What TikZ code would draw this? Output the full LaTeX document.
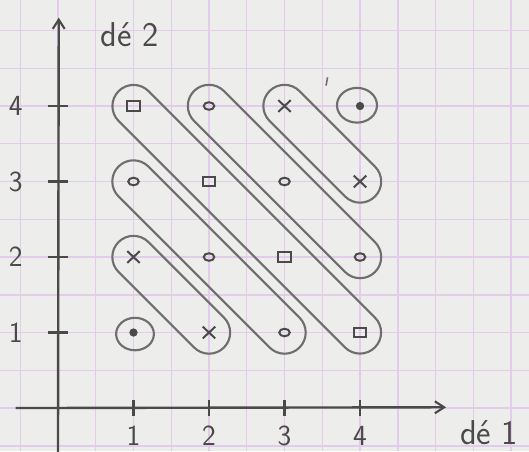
\documentclass[tikz,border=0pt]{standalone}
\usetikzlibrary{arrows.meta,shapes.geometric,shapes.misc}
\definecolor{paper}{HTML}{EDEDEB}
\definecolor{gridc}{HTML}{E2CCEA}
\definecolor{ink}{HTML}{4A4A4A}
\definecolor{pencil}{HTML}{6E6E6E}
\begin{document}
\begin{tikzpicture}[x=2cm,y=2cm,
  gridline/.style={gridc, line width=1.1pt},
  axis/.style={ink, line width=1.8pt, -{Straight Barb[length=7pt,width=9pt,line width=1.6pt]}},
  tick/.style={ink, line width=1.6pt},
  lab/.style={text=ink, font=\sffamily\fontsize{22}{26}\selectfont, inner sep=0},
  biglab/.style={text=ink, font=\sffamily\fontsize{26}{30}\selectfont, inner sep=0},
  sq/.style={draw=ink, line width=1.5pt, rectangle, minimum width=0.34cm, minimum height=0.24cm, inner sep=0},
  ci/.style={draw=ink, line width=1.5pt, ellipse, minimum width=0.28cm, minimum height=0.2cm, inner sep=0},
  cr/.style={draw=ink, line width=1.5pt, cross out, minimum width=0.28cm, minimum height=0.26cm, inner sep=0},
  dt/.style={fill=ink, circle, minimum size=0.22cm, inner sep=0},
  ring/.style={draw=pencil, line width=1.6pt, ellipse, inner sep=0},
  loopbox/.style={draw=pencil, line width=1.6pt, rectangle, rounded corners=0.56cm, minimum height=1.12cm, inner sep=0, rotate=-45}
]
\fill[paper] (-0.768,-0.570) rectangle (6.238,5.404);
\useasboundingbox (-0.768,-0.570) rectangle (6.238,5.404);
% graph paper
\foreach \x in {-0.5,0,...,6.0} \draw[gridline] (\x,-0.57) -- (\x,5.404);
\foreach \y in {-0.5,0,...,5.0} \draw[gridline] (-0.768,\y) -- (6.238,\y);

% axes
\coordinate (xs) at (-0.56,0);
\coordinate (xe) at (5.14,0.01);
\coordinate (ys) at (0,-0.6);
\coordinate (ye) at (0.01,5.17);
\draw[axis] (xs) -- (xe);
\draw[axis] (ys) -- (ye);
\foreach \i in {1,2,3,4} {
  \coordinate (xt\i a) at (\i,-0.11);
  \coordinate (xt\i b) at (\i,0.11);
  \draw[tick] (xt\i a) -- (xt\i b);
  \coordinate (yt\i a) at (-0.13,\i);
  \coordinate (yt\i b) at (0.13,\i);
  \draw[tick] (yt\i a) -- (yt\i b);
  \node[lab] (xl\i) at (\i,-0.37) {\i};
  \node[lab] (yl\i) at (-0.56,\i) {\i};
}
\node[biglab] (d2) at (0.95,4.95) {dé 2};
\node[biglab] (d1) at (5.71,-0.32) {dé 1};

% outcome marks
\node[dt] (p11) at (1,1) {};
\node[cr] (p12) at (1,2) {};
\node[cr] (p21) at (2,1) {};
\node[ci] (p13) at (1,3) {};
\node[ci] (p22) at (2,2) {};
\node[ci] (p31) at (3,1) {};
\node[sq] (p14) at (1,4) {};
\node[sq] (p23) at (2,3) {};
\node[sq] (p32) at (3,2) {};
\node[sq] (p41) at (4,1) {};
\node[ci] (p24) at (2,4) {};
\node[ci] (p33) at (3,3) {};
\node[ci] (p42) at (4,2) {};
\node[cr] (p34) at (3,4) {};
\node[cr] (p43) at (4,3) {};
\node[dt] (p44) at (4,4) {};

% groupings
\node[ring, minimum width=1.0cm, minimum height=0.86cm] (g2) at (1.02,0.98) {};
\node[loopbox, minimum width=3.95cm] (g3) at (1.5,1.5) {};
\node[loopbox, minimum width=6.78cm] (g4) at (2,2) {};
\node[loopbox, minimum width=9.6cm] (g5) at (2.5,2.5) {};
\node[loopbox, minimum width=6.78cm] (g6) at (3,3) {};
\node[loopbox, minimum width=3.95cm] (g7) at (3.5,3.5) {};
\node[ring, minimum width=1.06cm, minimum height=0.92cm] (g8) at (3.96,4.01) {};

% stray pen mark
\coordinate (m1) at (3.57,4.38);
\coordinate (m2) at (3.55,4.27);
\draw[pencil, line width=1.2pt] (m1) -- (m2);
\end{tikzpicture}
\end{document}
